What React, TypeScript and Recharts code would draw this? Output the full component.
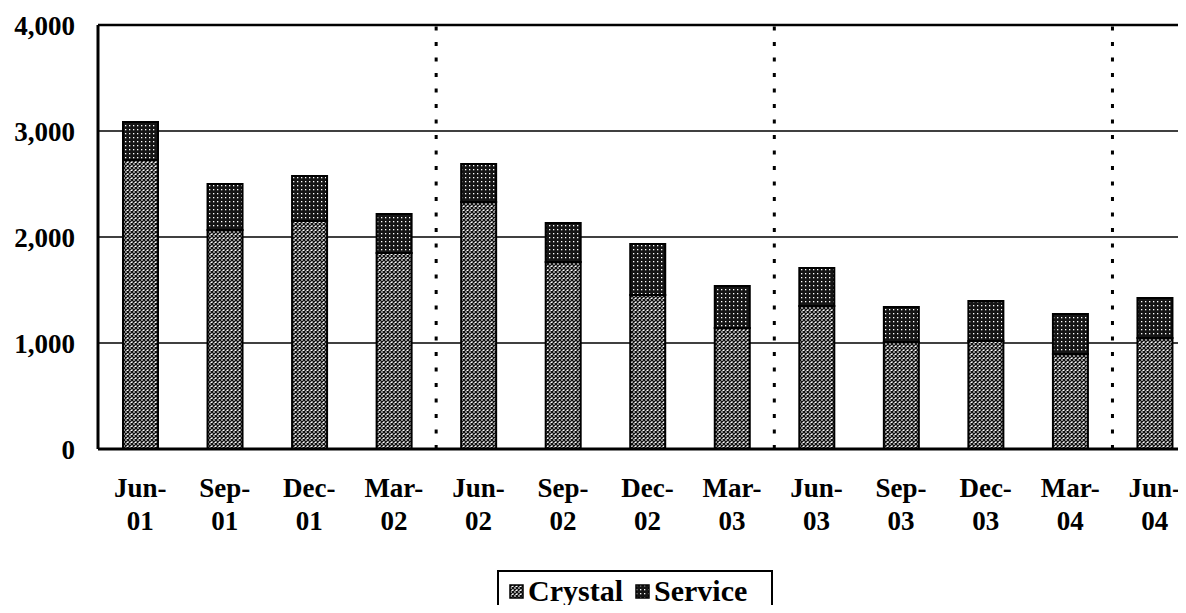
import React from "react";
import { BarChart, Bar, XAxis, YAxis, CartesianGrid, ReferenceLine, Legend } from "recharts";

const categories = ["Jun-01", "Sep-01", "Dec-01", "Mar-02", "Jun-02", "Sep-02", "Dec-02", "Mar-03", "Jun-03", "Sep-03", "Dec-03", "Mar-04", "Jun-04"];
const crystal = [2726, 2066, 2151, 1849, 2330, 1764, 1453, 1142, 1349, 1009, 1019, 896, 1047];
const service = [359, 434, 424, 368, 359, 368, 481, 396, 359, 331, 377, 378, 378];
const yTicks = [0, 1000, 2000, 3000, 4000];
const dividers = ["Jun-02", "Jun-03", "Jun-04"];
const seriesNames = ["Crystal", "Service"];

const data = categories.map((c, i) => ({ name: c, Crystal: crystal[i], Service: service[i] }));

const FONT = "'Liberation Serif', 'Times New Roman', serif";

const XTick = (props: any) => {
  const { x, y, payload } = props;
  const label: string = payload.value;
  const idx = label.indexOf("-");
  const a = label.slice(0, idx + 1);
  const b = label.slice(idx + 1);
  return (
    <text x={x} y={y} textAnchor="middle" fontFamily={FONT} fontWeight="bold" fontSize={27} fill="#000">
      <tspan x={x} dy={48}>{a}</tspan>
      <tspan x={x} dy={33}>{b}</tspan>
    </text>
  );
};

const patternFor: Record<string, string> = { Crystal: "url(#patCrystal)", Service: "url(#patService)" };

const LegendBox = () => (
  <div
    style={{
      width: 276,
      height: 42,
      boxSizing: "border-box",
      border: "2px solid #000",
      display: "flex",
      alignItems: "center",
      paddingLeft: 10,
      fontFamily: FONT,
      fontWeight: "bold",
      fontSize: 30,
      color: "#000",
      background: "#fff",
    }}
  >
    {seriesNames.map((n, i) => (
      <div key={n} style={{ display: "flex", alignItems: "center", marginRight: i === 0 ? 12 : 0 }}>
        <svg width={15} height={15} style={{ marginRight: 4 }}>
          <rect x={1} y={1} width={13} height={13} fill={patternFor[n]} stroke="#000" strokeWidth={1.5} />
        </svg>
        <span style={{ lineHeight: "30px" }}>{n}</span>
      </div>
    ))}
  </div>
);

export default function App() {
  return (
    <div style={{ margin: -8, width: 1186, height: 613, overflow: "hidden", position: "relative", background: "#fff" }}>
      <BarChart
        width={1200}
        height={613}
        data={data}
        margin={{ top: 25, right: 3, left: 0, bottom: 22 }}
        barSize={35}
      >
        <defs>
          <pattern id="patCrystal" patternUnits="userSpaceOnUse" width={4} height={4}>
            <rect x={0} y={0} width={4} height={4} fill="#fff" />
            <path d="M0,0 L4,4 M4,0 L0,4" stroke="#111" strokeWidth={1.4} />
          </pattern>
          <pattern id="patService" patternUnits="userSpaceOnUse" width={4} height={4}>
            <rect x={0} y={0} width={4} height={4} fill="#151515" />
            <rect x={1} y={1} width={1.3} height={1.3} fill="#fff" />
          </pattern>
        </defs>
        <CartesianGrid vertical={false} stroke="#000" strokeWidth={1.3} />
        <XAxis
          dataKey="name"
          height={100}
          tickLine={false}
          tickSize={0}
          tickMargin={0}
          axisLine={{ stroke: "#000", strokeWidth: 3 }}
          tick={<XTick />}
          interval={0}
        />
        <YAxis
          width={98}
          domain={[0, 4000]}
          ticks={yTicks}
          tickLine={false}
          tickSize={0}
          tickMargin={23}
          axisLine={{ stroke: "#000", strokeWidth: 3 }}
          tickFormatter={(v: number) => v.toLocaleString("en-US")}
          tick={{ fontFamily: FONT, fontWeight: "bold", fontSize: 27, fill: "#000" }}
        />
        <ReferenceLine y={4000} stroke="#000" strokeWidth={2.5} />
        {dividers.map((d) => (
          <ReferenceLine key={d} x={d} position="start" stroke="#000" strokeWidth={3} strokeDasharray="4 11.5" />
        ))}
        <Legend
          verticalAlign="bottom"
          content={<LegendBox />}
          wrapperStyle={{ top: 570, left: 497, bottom: "auto", width: 276, height: 42 }}
        />
        <Bar dataKey="Crystal" stackId="a" fill="url(#patCrystal)" stroke="#000" strokeWidth={2} isAnimationActive={false} />
        <Bar dataKey="Service" stackId="a" fill="url(#patService)" stroke="#000" strokeWidth={2} isAnimationActive={false} />
      </BarChart>
    </div>
  );
}
